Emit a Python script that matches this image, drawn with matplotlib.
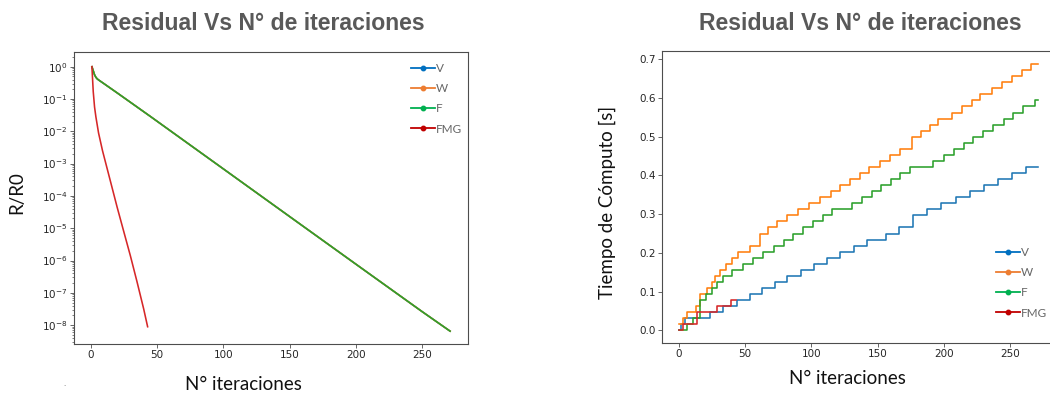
import numpy as np
import matplotlib
matplotlib.use("Agg")
import matplotlib.pyplot as plt
from matplotlib.lines import Line2D
from matplotlib.ticker import LogLocator, NullFormatter

# ---------------- data ----------------
series = ["V", "W", "F", "FMG"]

# residual R/R0 vs iteration (V, W and F coincide)
res_iter_vwf = [1, 2, 3, 4, 5, 6, 10, 20, 45, 100, 150, 200, 250, 271]
res_V = [1.0, 0.75, 0.56, 0.47, 0.42, 0.39, 0.30, 0.155, 0.029, 6.9e-4, 2.3e-5, 7.7e-7, 2.6e-8, 6.5e-9]
res_W = [1.0, 0.75, 0.56, 0.47, 0.42, 0.39, 0.30, 0.155, 0.029, 6.9e-4, 2.3e-5, 7.7e-7, 2.6e-8, 6.5e-9]
res_F = [1.0, 0.75, 0.56, 0.47, 0.42, 0.39, 0.30, 0.155, 0.029, 6.9e-4, 2.3e-5, 7.7e-7, 2.6e-8, 6.5e-9]
res_iter_fmg = [1, 2, 3, 4, 6, 9, 15, 20, 25, 30, 35, 40, 43]
res_FMG = [1.0, 0.17, 0.056, 0.028, 8.9e-3, 2.5e-3, 2.8e-4, 4.5e-5, 7.9e-6, 1.4e-6, 2.2e-7, 3.2e-8, 8.9e-9]

# computation time [s] vs iteration: iteration where each step begins, and time level
t_iter_V = [0, 2, 5, 23.6, 33.7, 43.7, 53.8, 63, 72.6, 82, 92, 102, 112, 122, 132, 142,
            156, 166, 177, 187.4, 198, 209, 220, 230, 241, 251, 261.6, 271]
t_V = [0, .0156, .0313, .0469, .0625, .0781, .0938, .1094, .125, .1406, .1563, .1719,
       .1875, .2031, .2188, .2344, .25, .2656, .2969, .3125, .3281, .3438, .3594, .375,
       .3906, .4063, .4219, .4219]

t_iter_W = [0, 3, 6, 13, 16, 21.1, 24.9, 27.4, 31.1, 35.7, 40, 45, 53.8, 61.3, 67.5, 74.2,
            81.4, 90.2, 98.2, 106.5, 114.8, 121.6, 129, 136.7, 143.5, 151.8, 159.3, 166.8,
            175.6, 183, 189.4, 195.7, 205.8, 213.3, 220.9, 227, 236, 243.5, 251, 258.5, 266, 271]
t_W = [.0156, .0313, .0469, .0625, .0938, .1094, .125, .1406, .1563, .1719, .1875, .2031,
       .2188, .25, .2656, .2813, .2969, .3125, .3281, .3438, .3594, .375, .3906, .4063,
       .4219, .4375, .4531, .4688, .5, .5156, .5313, .5469, .5625, .5781, .5938, .6094,
       .625, .6406, .6563, .6719, .6875, .6875]

t_iter_F = [0, 6, 10.6, 16, 21, 25, 28.7, 33.8, 40, 48.7, 56.3, 63.5, 71.8, 79.8, 86.4, 94,
            101.5, 109, 115.8, 131, 138.4, 145.5, 152.3, 159.8, 166.8, 174.4, 192, 200,
            207.5, 215, 222, 229.6, 237.2, 245.2, 252.3, 259.8, 268.6, 271]
t_F = [0, .0156, .0313, .0781, .0938, .1094, .125, .1406, .1563, .1719, .1875, .2031,
       .2188, .2344, .25, .2656, .2813, .2969, .3125, .3281, .3438, .3594, .375, .3906,
       .4063, .4219, .4375, .4531, .4688, .4844, .5, .5156, .5313, .5469, .5625, .5781,
       .5938, .5938]

t_iter_FMG = [0.5, 3.5, 14, 29, 39.5, 43.5]
t_FMG = [0, .0156, .0469, .0625, .0781, .0781]

x_ticks = [0, 50, 100, 150, 200, 250]
time_ticks = [0.0, 0.1, 0.2, 0.3, 0.4, 0.5, 0.6, 0.7]

title_text = "Residual Vs N\u00b0 de iteraciones"
xlabel_text = "N\u00b0 iteraciones"
ylabel_left = "R/R0"
ylabel_right = "Tiempo de C\u00f3mputo [s]"

# ---------------- style ----------------
line_colors = ["#1f77b4", "#ff7f0e", "#2ca02c", "#d62728"]
legend_colors = ["#0070C0", "#ED7D31", "#00B050", "#C00000"]
W_PX, H_PX = 1050, 394

fig = plt.figure(figsize=(W_PX / 100, H_PX / 100), dpi=100)


def px_axes(left, top, right, bottom):
    return fig.add_axes([left / W_PX, 1 - bottom / H_PX, (right - left) / W_PX, (bottom - top) / H_PX])


def style_axes(ax):
    for s in ax.spines.values():
        s.set_color("#4d4d4d")
        s.set_linewidth(0.8)
    ax.tick_params(axis="both", which="major", labelsize=7.5, colors="#4d4d4d",
                   labelcolor="#262626", length=2.6, width=0.6, pad=2)
    ax.tick_params(axis="both", which="minor", colors="#4d4d4d", length=1.5, width=0.5)


lw = 1.15

# ---- left: residual ----
ax1 = px_axes(74, 52, 468, 344)
ax1.plot(res_iter_vwf, res_V, color=line_colors[0], lw=lw)
ax1.plot(res_iter_vwf, res_W, color=line_colors[1], lw=lw)
ax1.plot(res_iter_vwf, res_F, color=line_colors[2], lw=lw)
ax1.plot(res_iter_fmg, res_FMG, color=line_colors[3], lw=lw)
ax1.set_yscale("log")
ax1.set_xlim(-12.5, 284.5)
ax1.set_ylim(10 ** -8.585, 10 ** 0.455)
ax1.set_xticks(x_ticks)
ax1.yaxis.set_major_locator(LogLocator(base=10, numticks=20))
ax1.yaxis.set_minor_locator(LogLocator(base=10, subs=np.arange(2, 10), numticks=20))
ax1.yaxis.set_minor_formatter(NullFormatter())
style_axes(ax1)

# ---- right: time ----
ax2 = px_axes(662, 51, 1056, 343)
ax2.step(t_iter_V, t_V, where="post", color=line_colors[0], lw=lw)
ax2.step(t_iter_W, t_W, where="post", color=line_colors[1], lw=lw)
ax2.step(t_iter_F, t_F, where="post", color=line_colors[2], lw=lw)
ax2.step(t_iter_FMG, t_FMG, where="post", color=line_colors[3], lw=lw)
ax2.set_xlim(-12.5, 284.5)
ax2.set_ylim(-0.0328, 0.7214)
ax2.set_xticks(x_ticks)
ax2.set_yticks(time_ticks)
ax2.set_yticklabels([f"{v:.1f}" for v in time_ticks])
style_axes(ax2)

# ---- titles & labels ----
title_kw = dict(fontsize=16.6, fontweight="bold", color="#595959",
                family=["Liberation Sans", "DejaVu Sans"], ha="center", va="center")
fig.text(263 / W_PX, 1 - 24 / H_PX, title_text, **title_kw)
fig.text(860 / W_PX, 1 - 24 / H_PX, title_text, **title_kw)

label_kw = dict(fontsize=13.5, color="#111111", family=["Lato", "DejaVu Sans"],
                ha="center", va="center")
fig.text(243 / W_PX, 1 - 384 / H_PX, xlabel_text, **label_kw)
fig.text(847 / W_PX, 1 - 379 / H_PX, xlabel_text, **label_kw)
fig.text(17 / W_PX, 1 - 193 / H_PX, ylabel_left, rotation=90, **label_kw)
fig.text(607 / W_PX, 1 - 202 / H_PX, ylabel_right, rotation=90, **label_kw)
fig.text(64 / W_PX, 1 - 386 / H_PX, ".", fontsize=5, color="#666666", ha="center", va="baseline")

# ---- legends ----
handles = [Line2D([0], [0], color=c, lw=1.3, marker="o", markersize=3.2) for c in legend_colors]


def add_legend(x_px, top_px):
    leg = fig.legend(handles, series, loc="upper left",
                     bbox_to_anchor=(x_px / W_PX, 1 - top_px / H_PX),
                     bbox_transform=fig.transFigure, frameon=False,
                     prop={"family": ["Lato", "DejaVu Sans"], "size": 8.5},
                     labelcolor="#666666", handlelength=2.0, handletextpad=0.1,
                     labelspacing=0.78, borderpad=0, borderaxespad=0)
    return leg


add_legend(411, 63)
add_legend(996, 247)

fig.savefig("out.png", dpi=100)
